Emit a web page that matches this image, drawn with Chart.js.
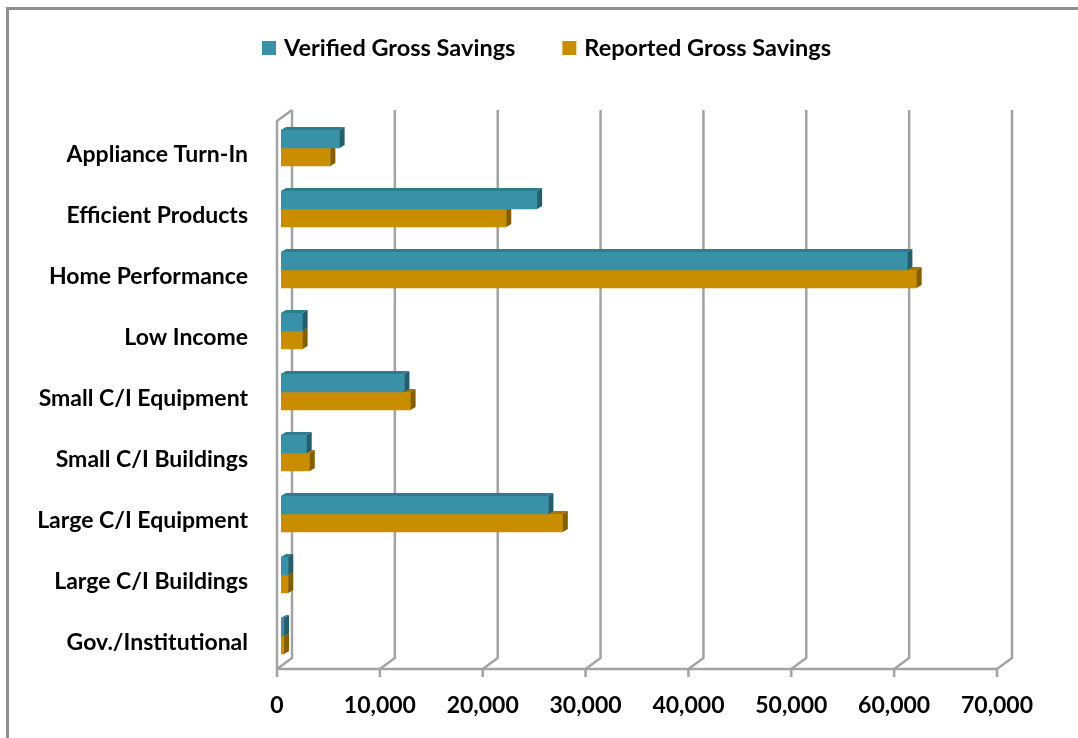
<!DOCTYPE html>
<html>
<head>
<meta charset="utf-8">
<script src="https://cdn.jsdelivr.net/npm/chart.js@4"></script>
<style>
  html, body { margin: 0; padding: 0; background: #fff; }
  #wrap { width: 1078px; height: 738px; position: relative; }
</style>
</head>
<body>
<div id="wrap"><canvas id="savingsCanvas"></canvas></div>
<script>
/* ── data ── */
const categories = [
    'Appliance Turn-In', 'Efficient Products', 'Home Performance', 'Low Income',
    'Small C/I Equipment', 'Small C/I Buildings', 'Large C/I Equipment',
    'Large C/I Buildings', 'Gov./Institutional',
];
const verifiedSavings = [5700, 24900, 60900, 2100, 12000, 2500, 26000, 700, 300];
const reportedSavings = [4800, 21900, 61800, 2100, 12600, 2800, 27400, 700, 300];
const xTicks = [0, 10000, 20000, 30000, 40000, 50000, 60000, 70000];

/* ── look ── */
const FONT = 'Lato, "Open Sans", sans-serif';
const faces = [
    { front: '#3891a6', top: '#2f7c8f', side: '#235e6c' },   // verified
    { front: '#c98d00', top: '#a67500', side: '#855e00' },   // reported
];
const BAR_DX = 5, BAR_DY = 3;       // bar depth
const WALL_DX = 15, WALL_DY = 11;   // back wall offset
const FRONT_SHIFT = 4;              // front plane sits left of where bars start
const GRID = '#a3a3a3';

const frame3d = {
    id: 'frame3d',
    beforeDraw(chart) {
        const ctx = chart.ctx;
        ctx.save();
        ctx.strokeStyle = '#8f8f8f';
        ctx.lineWidth = 3;
        ctx.beginPath();
        ctx.moveTo(7.5, 760);
        ctx.lineTo(7.5, 8.5);
        ctx.lineTo(1100, 8.5);
        ctx.stroke();
        ctx.restore();
    },
    beforeDatasetsDraw(chart) {
        const { ctx, chartArea, scales: { x } } = chart;
        const floor   = chartArea.bottom + 2.5;
        const backBot = floor - WALL_DY;
        const backTop = chartArea.top - 7.5;
        const fx = v => x.getPixelForValue(v) - FRONT_SHIFT;

        ctx.save();
        ctx.strokeStyle = GRID;
        ctx.lineWidth = 2.5;
        ctx.lineJoin = 'round';

        xTicks.forEach(v => {
            const f = fx(v), b = f + WALL_DX;
            ctx.beginPath();
            ctx.moveTo(b, backTop);
            ctx.lineTo(b, backBot);
            ctx.lineTo(f, floor);
            ctx.stroke();
            ctx.beginPath();
            ctx.moveTo(f, floor);
            ctx.lineTo(f, floor + 8);
            ctx.stroke();
        });

        // left wall front edge + floor front edge
        const f0 = fx(xTicks[0]);
        ctx.beginPath();
        ctx.moveTo(f0 + WALL_DX, backTop);
        ctx.lineTo(f0, backTop + WALL_DY);
        ctx.lineTo(f0, floor);
        ctx.lineTo(fx(xTicks[xTicks.length - 1]), floor);
        ctx.stroke();
        ctx.restore();
    },
    afterDatasetDraw(chart, args) {
        const ctx = chart.ctx;
        const c = faces[args.index];
        ctx.save();
        args.meta.data.forEach(el => {
            const { x, y, base, height } = el.getProps(['x', 'y', 'base', 'height'], true);
            const t = y - height / 2, b = y + height / 2;
            ctx.fillStyle = c.top;
            ctx.beginPath();
            ctx.moveTo(base, t);
            ctx.lineTo(x, t);
            ctx.lineTo(x + BAR_DX, t - BAR_DY);
            ctx.lineTo(base + BAR_DX, t - BAR_DY);
            ctx.closePath();
            ctx.fill();
            ctx.fillStyle = c.side;
            ctx.beginPath();
            ctx.moveTo(x, t);
            ctx.lineTo(x + BAR_DX, t - BAR_DY);
            ctx.lineTo(x + BAR_DX, b - BAR_DY);
            ctx.lineTo(x, b);
            ctx.closePath();
            ctx.fill();
        });
        ctx.restore();
    },
    afterDraw(chart) {
        // legend, laid out like the original
        const ctx = chart.ctx;
        ctx.save();
        ctx.font = `bold 23.5px ${FONT}`;
        ctx.textBaseline = 'middle';
        let lx = 262;
        chart.data.datasets.forEach((ds, i) => {
            ctx.fillStyle = faces[i].front;
            ctx.fillRect(lx, 41, 14, 14);
            ctx.fillStyle = '#000';
            ctx.fillText(ds.label, lx + 22, 48);
            lx += 22 + ctx.measureText(ds.label).width + 47;
        });
        ctx.restore();
    },
};

new Chart(document.getElementById('savingsCanvas'), {
    type: 'bar',
    data: {
        labels: categories,
        datasets: [
            { label: 'Verified Gross Savings', data: verifiedSavings, backgroundColor: faces[0].front, barThickness: 18 },
            { label: 'Reported Gross Savings', data: reportedSavings, backgroundColor: faces[1].front, barThickness: 18 },
        ],
    },
    options: {
        indexAxis: 'y',
        responsive: true,
        maintainAspectRatio: false,
        animation: false,
        layout: { padding: { top: 117.5, right: 77, bottom: 0, left: 0 } },
        scales: {
            x: {
                min: 0, max: 70000,
                afterBuildTicks: s => { s.ticks = xTicks.map(v => ({ value: v })); },
                afterFit: s => { s.height = 71.5; },
                grid: { display: false },
                border: { display: false },
                ticks: {
                    labelOffset: -FRONT_SHIFT,
                    padding: 17,
                    maxRotation: 0,
                    autoSkip: false,
                    color: '#000',
                    font: { family: FONT, size: 23, weight: 'bold' },
                    callback: v => Number(v).toLocaleString('en-US'),
                },
            },
            y: {
                afterFit: s => { s.width = 281; },
                grid: { display: false },
                border: { display: false },
                ticks: {
                    labelOffset: 7,
                    padding: 25,
                    color: '#000',
                    font: { family: FONT, size: 23, weight: 'bold' },
                },
            },
        },
        plugins: {
            legend:  { display: false },
            tooltip: { enabled: false },
        },
    },
    plugins: [frame3d],
});
</script>
</body>
</html>
